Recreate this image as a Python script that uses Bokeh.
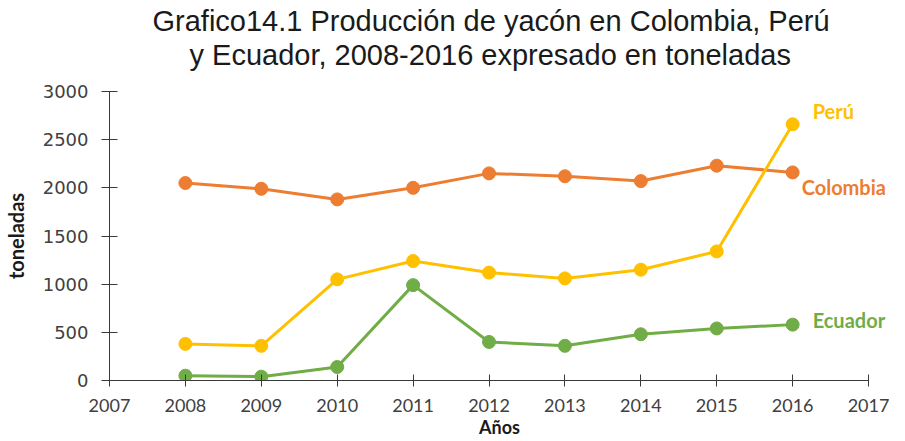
from bokeh.plotting import figure
from bokeh.models import Label, FixedTicker, Range1d, Title
from bokeh.embed import file_html
from bokeh.resources import INLINE

years = [2008, 2009, 2010, 2011, 2012, 2013, 2014, 2015, 2016]
colombia = [2050, 1990, 1880, 2000, 2150, 2120, 2070, 2230, 2160]
peru = [380, 360, 1050, 1240, 1120, 1060, 1150, 1340, 2660]
ecuador = [50, 40, 140, 990, 400, 360, 480, 540, 580]
x_ticks = [2007, 2008, 2009, 2010, 2011, 2012, 2013, 2014, 2015, 2016, 2017]
y_ticks = [0, 500, 1000, 1500, 2000, 2500, 3000]

title1 = "Grafico14.1 Producción de yacón en Colombia, Perú"
title2 = "y Ecuador, 2008-2016 expresado en toneladas"

# frame extends to the right edge so the end labels are not clipped;
# the x axis line is bounded to 2007-2017
p = figure(width=889, height=440, output_backend="svg", toolbar_location=None,
           title_location=None,
           x_range=Range1d(2007, 2017.276), y_range=Range1d(0, 3000),
           min_border_left=106, min_border_right=0, min_border_top=91, min_border_bottom=60)
p.outline_line_color = None
p.grid.grid_line_color = None
p.background_fill_color = "white"

# small spacer between the plot area and the two title lines
p.add_layout(Title(text="\u00a0", text_font_size="8px", standoff=10), "above")
for t, off in ((title2, 80), (title1, 43)):
    p.add_layout(Title(text=t, align="left", offset=off, standoff=0,
                       text_font="Liberation Sans", text_font_size="29px",
                       text_line_height=0.9,
                       text_font_style="normal", text_color="#1a1a1a"), "above")

axis_col = "#3a3a3a"
for ax in (p.xaxis[0], p.yaxis[0]):
    ax.axis_line_color = axis_col
    ax.major_tick_line_color = axis_col
    ax.minor_tick_line_color = None
    ax.major_label_text_color = "#404040"
    ax.axis_label_text_color = "#1a1a1a"
    ax.axis_label_text_font_style = "bold"

p.xaxis.ticker = FixedTicker(ticks=x_ticks)
p.yaxis.ticker = FixedTicker(ticks=y_ticks)
p.xaxis.bounds = (2007, 2017)
p.xaxis.major_tick_in = 6
p.xaxis.major_tick_out = 6
p.yaxis.major_tick_in = 8
p.yaxis.major_tick_out = 8
p.xaxis.major_label_text_font = "Lato"
p.xaxis.major_label_text_font_size = "18px"
p.xaxis.major_label_standoff = 12
p.yaxis.major_label_text_font = "DejaVu Sans"
p.yaxis.major_label_text_font_size = "18px"
p.yaxis.major_label_standoff = 13

p.xaxis.axis_label = "Años"
p.xaxis.axis_label_text_font = "Lato"
p.xaxis.axis_label_text_font_size = "18px"
p.xaxis.axis_label_standoff = 1
p.yaxis.axis_label = "toneladas"
p.yaxis.axis_label_text_font = "Lato"
p.yaxis.axis_label_text_font_size = "20px"
p.yaxis.axis_label_standoff = 12

series = [
    ("Colombia", colombia, "#ED7D31", 9, -15),
    ("Perú", peru, "#FFC000", 20, 13),
    ("Ecuador", ecuador, "#70AD47", 20, 5),
]
for name, vals, col, xo, yo in series:
    p.line(years, vals, line_color=col, line_width=3)
    p.scatter(years, vals, size=13, fill_color=col, line_color=col)
    p.add_layout(Label(x=years[-1], y=vals[-1], x_offset=xo, y_offset=yo, text=name,
                       text_color=col, text_font="Lato", text_font_style="bold",
                       text_font_size="20px", text_baseline="middle", text_align="left"))

open("out.html", "w").write(file_html(p, INLINE))
